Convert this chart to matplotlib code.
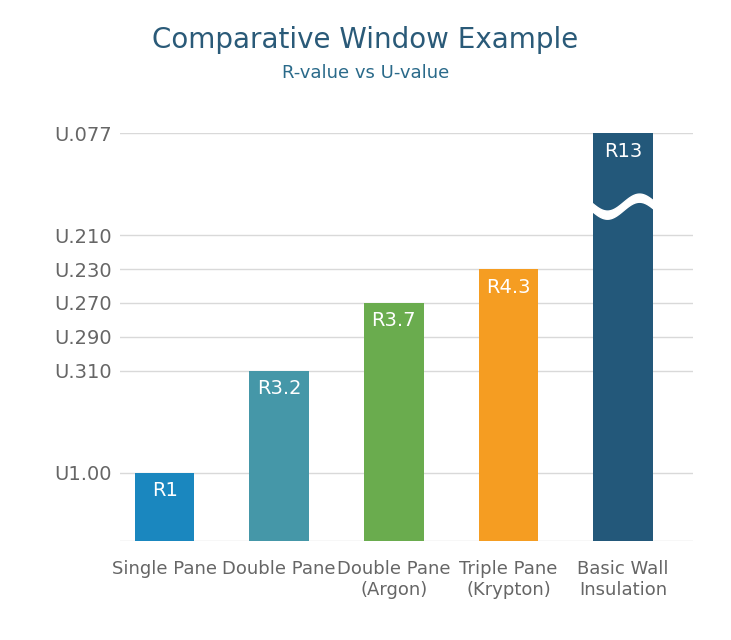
import numpy as np
import matplotlib.pyplot as plt

categories = ["Single Pane", "Double Pane", "Double Pane\n(Argon)", "Triple Pane\n(Krypton)", "Basic Wall\nInsulation"]
r_labels = ["R1", "R3.2", "R3.7", "R4.3", "R13"]
u_values = [1.00, 0.310, 0.270, 0.230, 0.077]
colors = ["#1a87bf", "#4597a8", "#6aac4e", "#f59d22", "#23587a"]

# non-linear axis: each U tick sits on a fixed level
tick_labels = ["U1.00", "U.310", "U.290", "U.270", "U.230", "U.210", "U.077"]
tick_values = [1.00, 0.310, 0.290, 0.270, 0.230, 0.210, 0.077]
tick_levels = [2, 5, 6, 7, 8, 9, 12]
level_of = dict(zip(tick_values, tick_levels))
heights = [level_of[u] for u in u_values]

fig = plt.figure(figsize=(7.31, 6.40), dpi=100)
ax = fig.add_axes([0.164, 0.155, 0.784, 0.637])
x = np.arange(len(categories))
ax.bar(x, heights, width=0.52, color=colors, zorder=3)
for xi, h, lab in zip(x, heights, r_labels):
    ax.text(xi, h - 0.25, lab, ha="center", va="top", color="white", fontsize=14, zorder=4)

# axis break on the tallest bar
wx = np.linspace(x[-1] - 0.28, x[-1] + 0.28, 100)
wy = 9.85 + 0.25 * np.sin((wx - wx[0]) / (wx[-1] - wx[0]) * 2 * np.pi + np.pi)
ax.fill_between(wx, wy - 0.12, wy + 0.12, color="white", zorder=5)

ax.set_xlim(-0.39, 4.61)
ax.set_ylim(0, 12)
ax.set_yticks(tick_levels)
ax.set_yticklabels(tick_labels)
ax.set_xticks(x)
ax.set_xticklabels(categories)
ax.grid(axis="y", color="#d9d9d9", lw=1, zorder=0)
ax.axhline(0, color="#d9d9d9", lw=1)
for s in ax.spines.values():
    s.set_visible(False)
ax.tick_params(length=0, colors="#666666", labelsize=13, pad=14)
ax.tick_params(axis="y", pad=6)
for t in ax.get_yticklabels():
    t.set_fontsize(14)

fig.text(0.5, 0.925, "Comparative Window Example", ha="center", fontsize=20, color="#2a5a78")
fig.text(0.5, 0.878, "R-value vs U-value", ha="center", fontsize=13, color="#2a6a8a")
fig.savefig("out.png", dpi=100, facecolor="white")
